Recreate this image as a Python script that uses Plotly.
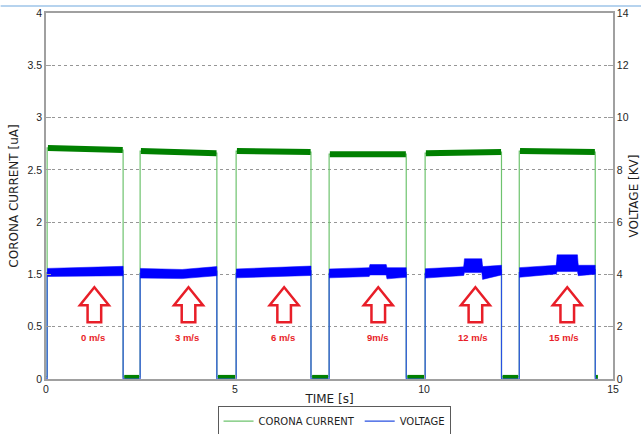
import plotly.graph_objects as go

# ---------------- data ----------------
pulse_on = [0.03, 2.49, 5.03, 7.49, 10.03, 12.52]      # s, supply switched on
pulse_off = [2.04, 4.52, 7.01, 9.53, 12.05, 14.53]     # s, supply switched off

# corona current plateau readings [uA] (start, end of each pulse)
current_start = [2.71, 2.68, 2.68, 2.65, 2.66, 2.68]
current_end = [2.69, 2.66, 2.67, 2.65, 2.67, 2.67]
current_off_level = 0.52   # reading at the bottom of the current axis

# voltage noise envelope per pulse: times [s], low / high [kV]
volt_t = [
    [0.03, 1.0, 2.04],
    [2.49, 3.6, 4.52],
    [5.03, 6.0, 7.01],
    [7.49, 8.55, 8.57, 9.0, 9.02, 9.53],
    [10.03, 11.05, 11.07, 11.53, 11.55, 12.05],
    [12.52, 13.50, 13.52, 14.06, 14.08, 14.53],
]
volt_lo = [
    [3.92, 3.93, 3.95],
    [3.86, 3.84, 3.95],
    [3.87, 3.90, 3.96],
    [3.87, 3.92, 3.98, 3.98, 3.83, 3.89],
    [3.86, 3.96, 4.07, 4.07, 3.81, 3.98],
    [3.89, 4.02, 4.11, 4.11, 3.95, 4.01],
]
volt_hi = [
    [4.23, 4.27, 4.31],
    [4.23, 4.19, 4.30],
    [4.21, 4.25, 4.32],
    [4.21, 4.26, 4.38, 4.38, 4.26, 4.26],
    [4.22, 4.29, 4.60, 4.60, 4.30, 4.35],
    [4.26, 4.35, 4.75, 4.75, 4.35, 4.35],
]

# wind speed markers
wind_labels = ["0 m/s", "3 m/s", "6 m/s", "9m/s", "12 m/s", "15 m/s"]
arrow_t = [1.28, 3.77, 6.30, 8.79, 11.36, 13.79]
arrow_tip_kv = 3.55
label_t = [1.25, 3.74, 6.28, 8.79, 11.30, 13.71]
label_kv = 1.60

# axis ticks
x_ticks = [0, 5, 10, 15]
cur_tickvals = [0.5, 1.0, 1.5, 2.0, 2.5, 3.0, 3.5, 4.0]
cur_ticktext = ["0", "0.5", "1.5", "2", "2.5", "3", "3.5", "4"]
volt_ticks = [0, 2, 4, 6, 8, 10, 12, 14]

# ---------------- styling ----------------
GREEN = "rgb(0,128,0)"
GREEN_THIN = "rgb(110,195,110)"
BLUE = "rgb(0,0,255)"
BLUE_THIN = "rgb(40,80,225)"
RED = "rgb(232,30,40)"
FRAME = "rgb(160,160,160)"
GRID = "rgb(150,150,150)"
TXT = "rgb(30,30,30)"

fig = go.Figure()

# thin full current waveform (legend entry)
cx, cy = [0.0], [current_off_level]
for on, off, s, e in zip(pulse_on, pulse_off, current_start, current_end):
    cx += [on, on, off, off]
    cy += [current_off_level, s, e, current_off_level]
cx.append(14.6)
cy.append(current_off_level)
fig.add_trace(go.Scatter(x=cx, y=cy, mode="lines", name="CORONA CURRENT",
                         line=dict(color=GREEN_THIN, width=1.2), yaxis="y"))

# thin full voltage waveform (legend entry)
vx, vy = [0.0], [0.0]
for ts, lo, hi in zip(volt_t, volt_lo, volt_hi):
    mids = [(a + b) / 2 for a, b in zip(lo, hi)]
    vx += [ts[0]] + ts + [ts[-1]]
    vy += [0.0] + mids + [0.0]
vx.append(14.6)
vy.append(0.0)
fig.add_trace(go.Scatter(x=vx, y=vy, mode="lines", name="VOLTAGE",
                         line=dict(color=BLUE_THIN, width=1.2), yaxis="y2"))

# voltage noise band
for ts, lo, hi in zip(volt_t, volt_lo, volt_hi):
    fig.add_trace(go.Scatter(x=ts + ts[::-1], y=hi + lo[::-1], mode="lines",
                             fill="toself", fillcolor=BLUE,
                             line=dict(color=BLUE, width=0.5),
                             showlegend=False, hoverinfo="skip", yaxis="y2"))

# thick current plateaus (noise band)
px, py = [], []
for on, off, s, e in zip(pulse_on, pulse_off, current_start, current_end):
    px += [on + 0.02, off - 0.01, None]
    py += [s, e, None]
fig.add_trace(go.Scatter(x=px, y=py, mode="lines", line=dict(color=GREEN, width=6),
                         showlegend=False, hoverinfo="skip", yaxis="y"))

# current off-level bars
ox, oy = [], []
for off, on in zip(pulse_off[:-1], pulse_on[1:]):
    ox += [off + 0.03, on - 0.03, None]
    oy += [current_off_level, current_off_level, None]
ox += [pulse_off[-1] + 0.02, 14.6]
oy += [current_off_level, current_off_level]
fig.add_trace(go.Scatter(x=ox, y=oy, mode="lines", line=dict(color=GREEN, width=4),
                         showlegend=False, hoverinfo="skip", yaxis="y"))

# red outlined arrows
arrow_path = "M0,-1 L14.5,-19 L6.8,-19 L6.8,-36 L-6.8,-36 L-6.8,-19 L-14.5,-19 Z"
for t in arrow_t:
    fig.add_shape(type="path", xref="x", yref="y2", xsizemode="pixel", ysizemode="pixel",
                  xanchor=t, yanchor=arrow_tip_kv, path=arrow_path,
                  line=dict(color=RED, width=2.5), fillcolor="white", layer="above")

for t, txt in zip(label_t, wind_labels):
    fig.add_annotation(x=t, y=label_kv, xref="x", yref="y2", text="<b>%s</b>" % txt,
                       showarrow=False,
                       font=dict(family="Liberation Sans", size=9.5, color=RED))

# light blue line at the very top (screenshot edge)
fig.add_shape(type="line", xref="paper", yref="paper", x0=-0.08, x1=1.06, y0=1.019, y1=1.019,
              line=dict(color="rgb(158,196,232)", width=1.5))

tickfont = dict(family="Liberation Sans", size=10.5, color=TXT)
titlefont = dict(family="DejaVu Sans", size=12, color=TXT)

fig.update_layout(
    width=641, height=434,
    margin=dict(l=46, r=28, t=13, b=55, autoexpand=False),
    paper_bgcolor="white", plot_bgcolor="white",
    showlegend=True,
    legend=dict(orientation="h", x=0.508, xanchor="center", y=-0.073, yanchor="top",
                bordercolor="rgb(90,90,90)", borderwidth=1, bgcolor="white",
                font=dict(family="DejaVu Sans", size=10, color=TXT),
                itemwidth=30, tracegroupgap=0),
    xaxis=dict(range=[0, 15], tickvals=x_ticks, showgrid=False, zeroline=False,
               showline=True, linecolor=FRAME, linewidth=1.5, mirror=True,
               ticks="inside", ticklen=4, tickcolor=FRAME, tickfont=tickfont,
               automargin=False,
               title=dict(text="TIME [s]", font=titlefont, standoff=0)),
    yaxis=dict(range=[0.5, 4.0], tickvals=cur_tickvals, ticktext=cur_ticktext,
               showgrid=True, gridcolor=GRID, griddash="dot", gridwidth=1, zeroline=False,
               showline=True, linecolor=FRAME, linewidth=1.5, automargin=False,
               ticks="inside", ticklen=5, tickcolor=FRAME, tickfont=tickfont,
               title=dict(text="CORONA CURRENT [uA]", font=titlefont, standoff=6)),
    yaxis2=dict(range=[0, 14], tickvals=volt_ticks, overlaying="y", side="right",
                showgrid=False, zeroline=False, showline=True, linecolor=FRAME, linewidth=1.5,
                automargin=False,
                ticks="inside", ticklen=5, tickcolor=FRAME, tickfont=tickfont,
                title=dict(text="VOLTAGE [KV]", font=titlefont, standoff=6)),
)

fig.write_html("out.html", config={"displayModeBar": False},
               post_script="document.body.style.margin='0px';")
